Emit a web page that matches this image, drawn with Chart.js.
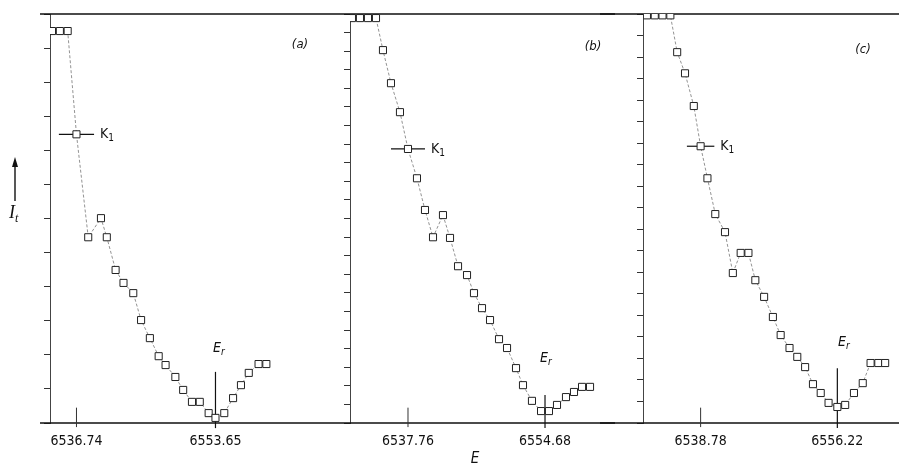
<!DOCTYPE html>
<html>
<head>
<meta charset="utf-8">
<script src="https://cdn.jsdelivr.net/npm/chart.js@4.4.1/dist/chart.umd.min.js"></script>
<style>
  html, body { margin: 0; padding: 0; background: #fff; }
  #wrap { position: relative; width: 899px; height: 467px; overflow: hidden; }
  .panel { position: absolute; top: 0; height: 467px; }
</style>
</head>
<body>
<div id="wrap">
  <div class="panel" style="left:0;width:335px"><canvas id="ca"></canvas></div>
  <div class="panel" style="left:335px;width:280px"><canvas id="cb"></canvas></div>
  <div class="panel" style="left:600px;width:299px"><canvas id="cc"></canvas></div>
</div>
<script>
const FONT = "'Liberation Sans Narrow', 'DejaVu Sans Condensed', 'Liberation Sans', sans-serif";

// panel (a)
const energyA = [6533.76, 6534.72, 6535.67, 6536.74, 6538.17, 6539.72, 6540.43, 6541.50, 6542.46, 6543.65,
  6544.60, 6545.67, 6546.74, 6547.58, 6548.77, 6549.72, 6550.79, 6551.74, 6552.82, 6553.65,
  6554.72, 6555.79, 6556.75, 6557.70, 6558.89, 6559.84];
const intensityA = [11.50, 11.50, 11.50, 8.47, 5.45, 6.01, 5.45, 4.49, 4.11, 3.81,
  3.02, 2.49, 1.96, 1.70, 1.35, 0.97, 0.62, 0.62, 0.29, 0.15,
  0.29, 0.73, 1.11, 1.47, 1.73, 1.73];

// panel (b)
const energyB = [6530.84, 6531.83, 6532.82, 6533.81, 6534.67, 6535.66, 6536.77, 6537.76, 6538.87, 6539.86,
  6540.85, 6542.08, 6542.95, 6543.94, 6545.05, 6545.91, 6546.90, 6547.89, 6549.00, 6549.99,
  6551.10, 6551.96, 6553.07, 6554.19, 6555.17, 6556.16, 6557.27, 6558.26, 6559.25, 6560.24];
const intensityB = [11.88, 11.88, 11.88, 11.88, 10.94, 9.97, 9.12, 8.04, 7.18, 6.25,
  5.45, 6.10, 5.43, 4.60, 4.34, 3.81, 3.37, 3.02, 2.46, 2.20,
  1.61, 1.11, 0.65, 0.35, 0.35, 0.53, 0.76, 0.91, 1.06, 1.06];

// panel (c)
const energyC = [6531.93, 6532.93, 6533.92, 6534.92, 6535.79, 6536.79, 6537.91, 6538.78, 6539.65, 6540.65,
  6541.89, 6542.89, 6543.89, 6544.88, 6545.76, 6546.88, 6548.00, 6548.99, 6550.12, 6551.11,
  6552.11, 6553.11, 6554.10, 6555.10, 6556.22, 6557.22, 6558.34, 6559.46, 6560.46, 6561.45, 6562.32];
const intensityC = [11.96, 11.96, 11.96, 11.96, 10.88, 10.26, 9.30, 8.12, 7.18, 6.13,
  5.60, 4.40, 4.99, 4.99, 4.19, 3.70, 3.11, 2.58, 2.20, 1.94,
  1.64, 1.14, 0.88, 0.59, 0.47, 0.53, 0.88, 1.17, 1.76, 1.76, 1.76];

const panelNames = ['(a)', '(b)', '(c)'];
const k1Energy = [6536.74, 6537.76, 6538.78];
const k1Intensity = [8.47, 8.04, 8.12];
const k1HalfWidth = [2.14, 2.1, 1.75];
const erEnergy = [6553.65, 6554.68, 6556.22];
const erBarTop = [1.50, 0.82, 1.61];
const energyMin = [6533.52, 6530.60, 6531.43];
const energyMax = [6567.46, 6561.47, 6563.32];
const intensityMax = 12;
const intensityStep = [1, 12 / 22, 12 / 19];

const energies = [energyA, energyB, energyC];
const intensities = [intensityA, intensityB, intensityC];

// layout of each canvas (pixels inside its own canvas)
const layouts = [
  { id: 'ca', padLeft: 44, padRight: 0, lineStart: 40, dash: [], nameX: 300, nameY: 45, erX: 213, erY: 348, axisTitle: '' },
  { id: 'cb', padLeft: 9, padRight: 15, lineStart: 0, dash: [5, 3], nameX: 258, nameY: 47, erX: 205, erY: 358, axisTitle: 'E' },
  { id: 'cc', padLeft: 37, padRight: 0, lineStart: 0, dash: [5, 3], nameX: 263, nameY: 50, erX: 238, erY: 342, axisTitle: '' }
];

function subText(ctx, main, sub, x, y, size, style, family) {
  ctx.font = style + ' ' + size + 'px ' + family;
  ctx.fillText(main, x, y);
  const w = ctx.measureText(main).width;
  ctx.font = style + ' ' + Math.round(size * 0.68) + 'px ' + family;
  ctx.fillText(sub, x + w, y + size * 0.3);
}

const decor = {
  id: 'decor',
  beforeDatasetsDraw(chart, args, o) {
    const { ctx, chartArea } = chart;
    ctx.save();
    ctx.strokeStyle = '#111';
    ctx.lineWidth = 1.6;
    ctx.beginPath();
    ctx.moveTo(o.lineStart, chartArea.top);
    ctx.lineTo(chart.width, chartArea.top);
    ctx.moveTo(o.lineStart, chartArea.bottom);
    ctx.lineTo(chart.width, chartArea.bottom);
    ctx.stroke();
    ctx.restore();
  },
  afterDraw(chart, args, o) {
    const { ctx, scales: { x, y } } = chart;
    ctx.save();
    ctx.fillStyle = '#111';
    ctx.textBaseline = 'middle';
    ctx.textAlign = 'center';
    // panel name
    ctx.font = 'italic 13px ' + FONT;
    ctx.fillText(o.name, o.nameX, o.nameY);
    ctx.textAlign = 'left';
    // K1 label
    subText(ctx, 'K', '1', x.getPixelForValue(o.k1 + o.k1Half) + 6, y.getPixelForValue(o.k1I), 14, 'normal', FONT);
    // Er label
    subText(ctx, 'E', 'r', o.erX, o.erY, 14, 'italic', FONT);
    if (o.intensityLabel) {
      ctx.strokeStyle = '#111';
      ctx.lineWidth = 1.4;
      ctx.beginPath();
      ctx.moveTo(15, 201);
      ctx.lineTo(15, 164);
      ctx.stroke();
      ctx.beginPath();
      ctx.moveTo(15, 157);
      ctx.lineTo(12, 167);
      ctx.lineTo(18, 167);
      ctx.closePath();
      ctx.fill();
      subText(ctx, 'I', 't', 9, 213, 18, 'italic', "'Liberation Serif', serif");
    }
    ctx.restore();
  }
};

layouts.forEach((L, i) => {
  const pts = energies[i].map((e, j) => ({ x: e, y: intensities[i][j] }));
  new Chart(document.getElementById(L.id), {
    type: 'scatter',
    data: {
      datasets: [
        {
          data: pts,
          showLine: true,
          borderColor: '#777',
          borderWidth: 0.8,
          borderDash: [3, 2],
          pointStyle: 'rect',
          pointRadius: 5,
          pointBorderWidth: 1,
          pointBorderColor: '#222',
          pointBackgroundColor: '#fff'
        },
        {
          data: [{ x: k1Energy[i] - k1HalfWidth[i], y: k1Intensity[i] }, { x: k1Energy[i] + k1HalfWidth[i], y: k1Intensity[i] }],
          showLine: true, pointRadius: 0, borderColor: '#111', borderWidth: 1.2
        },
        {
          data: [{ x: erEnergy[i], y: -0.15 }, { x: erEnergy[i], y: erBarTop[i] }],
          showLine: true, pointRadius: 0, borderColor: '#111', borderWidth: 1.2, clip: false
        },
        {
          data: [{ x: k1Energy[i], y: -0.12 }, { x: k1Energy[i], y: 0.45 }],
          showLine: true, pointRadius: 0, borderColor: '#333', borderWidth: 1, clip: false
        }
      ]
    },
    options: {
      responsive: true,
      maintainAspectRatio: false,
      animation: false,
      layout: { padding: { left: L.padLeft, right: L.padRight, top: 14, bottom: 0 } },
      plugins: {
        legend: { display: false },
        tooltip: { enabled: false },
        decor: {
          name: panelNames[i], nameX: L.nameX, nameY: L.nameY, erX: L.erX, erY: L.erY,
          lineStart: L.lineStart, k1: k1Energy[i], k1Half: k1HalfWidth[i], k1I: k1Intensity[i],
          intensityLabel: i === 0
        }
      },
      scales: {
        x: {
          type: 'linear',
          min: energyMin[i],
          max: energyMax[i],
          afterBuildTicks: s => { s.ticks = [{ value: k1Energy[i] }, { value: erEnergy[i] }]; },
          afterFit: s => { s.height = 44; },
          grid: { display: false, drawTicks: false },
          border: { display: false },
          ticks: {
            padding: 10,
            color: '#111',
            font: { family: FONT, size: 14 },
            maxRotation: 0,
            autoSkip: false,
            callback: v => v.toFixed(2)
          },
          title: {
            display: L.axisTitle !== '',
            text: L.axisTitle,
            color: '#111',
            padding: 0,
            font: { family: FONT, size: 15, style: 'italic', lineHeight: 1 }
          }
        },
        y: {
          min: 0,
          max: intensityMax,
          afterFit: s => { s.width = 6; },
          grid: { drawOnChartArea: false, drawTicks: true, tickLength: 6, color: '#333', lineWidth: 1 },
          border: { display: true, color: '#444', width: 1, dash: L.dash },
          ticks: { display: false, stepSize: intensityStep[i] }
        }
      }
    },
    plugins: [decor]
  });
});
</script>
</body>
</html>
